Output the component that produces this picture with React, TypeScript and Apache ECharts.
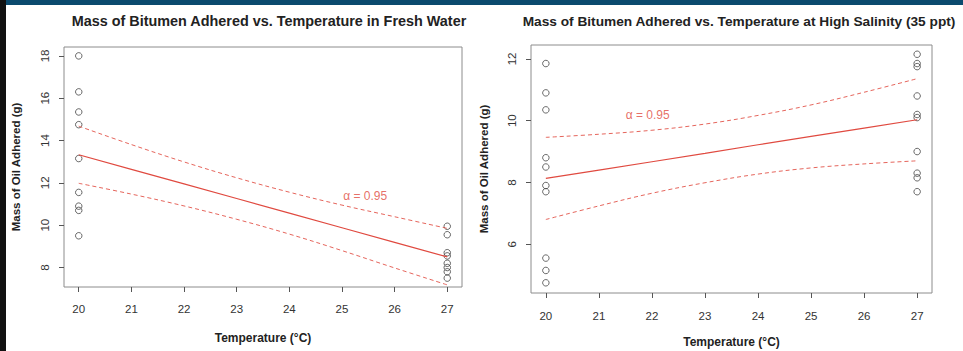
import React, { useEffect, useRef } from "react";
import * as echarts from "echarts";

// ---- data ----
const xTicks = [20, 21, 22, 23, 24, 25, 26, 27];
const lineTemps = [20, 21, 22, 23, 24, 25, 26, 27];

const freshYTicks = [8, 10, 12, 14, 16, 18];
const freshAt20 = [18.0, 16.3, 15.35, 14.75, 13.15, 11.55, 10.9, 10.7, 9.5];
const freshAt27 = [9.95, 9.55, 8.7, 8.55, 8.2, 8.0, 7.8, 7.5];
const freshFit = [13.33, 12.64, 11.95, 11.26, 10.57, 9.88, 9.19, 8.5];
const freshUpper = [14.68, 13.81, 12.99, 12.24, 11.56, 10.95, 10.4, 9.85];
const freshLower = [11.98, 11.47, 10.91, 10.28, 9.58, 8.8, 7.98, 7.18];

const saltYTicks = [6, 8, 10, 12];
const saltAt20 = [11.85, 10.9, 10.35, 8.8, 8.5, 7.9, 7.7, 5.55, 5.15, 4.75];
const saltAt27 = [12.15, 11.85, 11.75, 10.8, 10.2, 10.1, 9.0, 8.3, 8.15, 7.7];
const saltFit = [8.13, 8.4, 8.67, 8.94, 9.22, 9.49, 9.76, 10.03];
const saltUpper = [9.46, 9.56, 9.69, 9.89, 10.17, 10.51, 10.92, 11.36];
const saltLower = [6.8, 7.24, 7.65, 7.99, 8.27, 8.47, 8.6, 8.7];

const alphaLabel = "α = 0.95";
const freshAlphaPos = [25.44, 11.4];
const saltAlphaPos = [21.92, 10.19];

const titles = [
  "Mass of Bitumen Adhered vs. Temperature in Fresh Water",
  "Mass of Bitumen Adhered vs. Temperature at High Salinity (35 ppt)",
];

const FONT = '"Liberation Sans", Arial, Helvetica, sans-serif';
const RED = "#e04a40";
const PT = "#444444";

function xAxis(gridIndex: number, labelMargin: number, nameGap: number) {
  return {
    type: "value",
    gridIndex,
    min: 19.72,
    max: 27.28,
    splitLine: { show: false },
    axisLine: { show: false },
    axisTick: {
      show: true,
      inside: false,
      length: 5,
      customValues: xTicks,
      lineStyle: { color: "#555", width: 1 },
    },
    axisLabel: {
      customValues: xTicks,
      color: "#333",
      fontSize: 11.5,
      fontFamily: FONT,
      margin: labelMargin,
    },
    name: "Temperature (°C)",
    nameLocation: "middle",
    nameGap,
    nameTextStyle: { fontWeight: "bold", fontSize: 12, color: "#222", fontFamily: FONT },
  };
}

function yAxis(gridIndex: number, min: number, max: number, ticks: number[], nameGap: number) {
  return {
    type: "value",
    gridIndex,
    min,
    max,
    splitLine: { show: false },
    axisLine: { show: false },
    axisTick: {
      show: true,
      inside: false,
      length: 5,
      customValues: ticks,
      lineStyle: { color: "#555", width: 1 },
    },
    axisLabel: {
      customValues: ticks,
      rotate: 90,
      color: "#333",
      fontSize: 11.5,
      fontFamily: FONT,
      margin: 13,
    },
    name: "Mass of Oil Adhered (g)",
    nameLocation: "middle",
    nameGap,
    nameTextStyle: { fontWeight: "bold", fontSize: 11.5, color: "#222", fontFamily: FONT },
  };
}

function scatter(idx: number, temp: number, vals: number[]) {
  return {
    type: "scatter",
    xAxisIndex: idx,
    yAxisIndex: idx,
    symbol: "circle",
    symbolSize: 6.5,
    itemStyle: { color: "rgba(255,255,255,0)", borderColor: PT, borderWidth: 1 },
    data: vals.map((v) => [temp, v]),
    silent: true,
  };
}

function line(idx: number, vals: number[], dashed: boolean) {
  return {
    type: "line",
    xAxisIndex: idx,
    yAxisIndex: idx,
    showSymbol: false,
    symbol: "none",
    smooth: dashed ? 0.4 : false,
    lineStyle: {
      color: RED,
      width: dashed ? 1 : 1.2,
      type: dashed ? [4, 3] : "solid",
      opacity: dashed ? 0.85 : 1,
    },
    data: lineTemps.map((t, i) => [t, vals[i]]),
    silent: true,
  };
}

function alpha(idx: number, pos: number[]) {
  return {
    type: "scatter",
    xAxisIndex: idx,
    yAxisIndex: idx,
    symbol: "circle",
    symbolSize: 1,
    itemStyle: { color: "transparent" },
    label: {
      show: true,
      position: "inside",
      formatter: alphaLabel,
      color: RED,
      fontSize: 12,
      fontFamily: FONT,
    },
    data: [pos],
    silent: true,
  };
}

export default function App() {
  const ref = useRef<HTMLDivElement>(null);
  useEffect(() => {
    document.body.style.margin = "0";
    if (!ref.current) return;
    const chart = echarts.init(ref.current, undefined, { renderer: "svg" });
    chart.setOption({
      animation: false,
      backgroundColor: "#ffffff",
      title: [
        {
          text: titles[0],
          left: 264,
          top: 9,
          textAlign: "center",
          textStyle: { fontSize: 14.4, fontWeight: "bold", color: "#222", fontFamily: FONT },
        },
        {
          text: titles[1],
          left: 734,
          top: 9,
          textAlign: "center",
          textStyle: { fontSize: 13.7, fontWeight: "bold", color: "#222", fontFamily: FONT },
        },
      ],
      graphic: [
        { type: "rect", shape: { x: 0, y: 0, width: 963, height: 5 }, style: { fill: "#0b4a6e" } },
        { type: "rect", shape: { x: 0, y: 0, width: 6, height: 351 }, style: { fill: "#111" } },
      ],
      grid: [
        {
          left: 64, top: 47, right: 501, bottom: 64,
          show: true, borderColor: "#8c8c8c", borderWidth: 1,
          outerBoundsMode: "none", containLabel: false,
        },
        {
          left: 531, top: 45, right: 31, bottom: 58,
          show: true, borderColor: "#8c8c8c", borderWidth: 1,
          outerBoundsMode: "none", containLabel: false,
        },
      ],
      xAxis: [xAxis(0, 16, 45), xAxis(1, 17, 43)],
      yAxis: [
        yAxis(0, 7.08, 18.42, freshYTicks, 42),
        yAxis(1, 4.42, 12.45, saltYTicks, 41),
      ],
      series: [
        scatter(0, 20, freshAt20),
        scatter(0, 27, freshAt27),
        line(0, freshFit, false),
        line(0, freshUpper, true),
        line(0, freshLower, true),
        alpha(0, freshAlphaPos),
        scatter(1, 20, saltAt20),
        scatter(1, 27, saltAt27),
        line(1, saltFit, false),
        line(1, saltUpper, true),
        line(1, saltLower, true),
        alpha(1, saltAlphaPos),
      ],
    });
    return () => chart.dispose();
  }, []);
  return (
    <div
      ref={ref}
      style={{ position: "absolute", left: 0, top: 0, width: 963, height: 351 }}
    />
  );
}
